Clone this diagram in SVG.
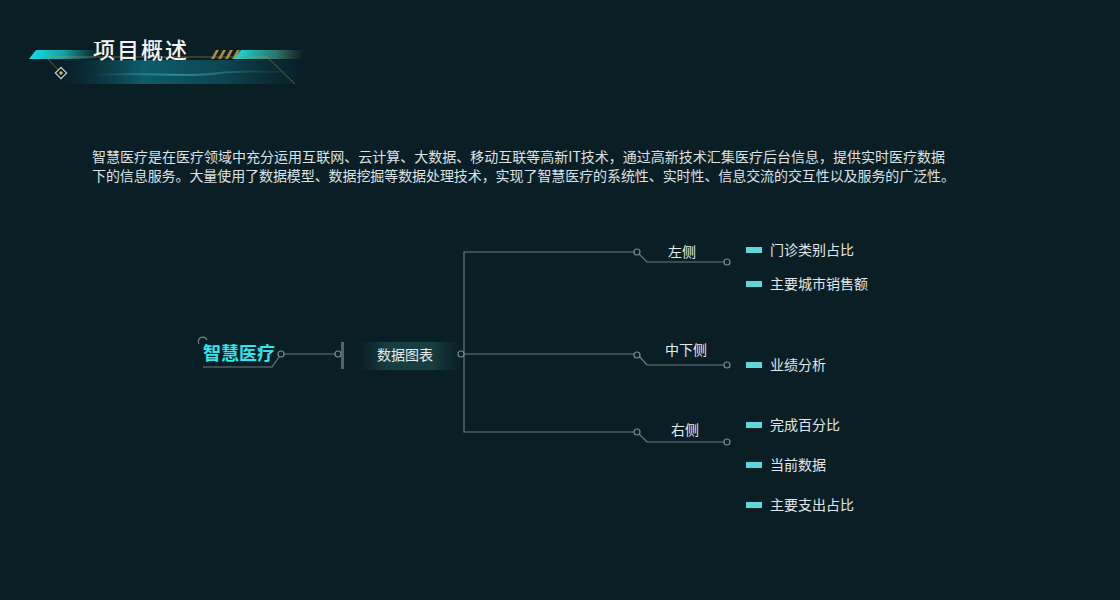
<svg xmlns="http://www.w3.org/2000/svg" width="1120" height="600" viewBox="0 0 1120 600">
<defs>
<style>
.t{font-family:"Noto Sans CJK SC","Noto Sans",sans-serif;}
.para{font-size:14px;fill:#dbe3e6;}
.lbl{font-size:14px;fill:#e6ecee;text-anchor:middle;}
.leaf{font-size:14px;fill:#e2e8ea;}
.ln{stroke:#6b7a7e;stroke-width:1.2;fill:none;}
.dot{stroke:#7b898c;stroke-width:1.2;fill:#0a1e26;}
.bar{fill:#5fd6dc;}
</style>
<linearGradient id="cyanL" x1="0" y1="0" x2="1" y2="0">
<stop offset="0" stop-color="#10e4ea"/><stop offset="0.5" stop-color="#18bfc6" stop-opacity="0.8"/><stop offset="1" stop-color="#1a8c94" stop-opacity="0"/>
</linearGradient>
<linearGradient id="cyanR" x1="0" y1="0" x2="1" y2="0">
<stop offset="0" stop-color="#12e2e8"/><stop offset="0.6" stop-color="#3a9a8a" stop-opacity="0.7"/><stop offset="1" stop-color="#6a6a3a" stop-opacity="0"/>
</linearGradient>
<linearGradient id="band" x1="0" y1="0" x2="1" y2="0">
<stop offset="0" stop-color="#0e4a5a" stop-opacity="0"/><stop offset="0.35" stop-color="#117080" stop-opacity="0.75"/><stop offset="0.7" stop-color="#0f5f6e" stop-opacity="0.6"/><stop offset="1" stop-color="#0c3440" stop-opacity="0.2"/>
</linearGradient>
<linearGradient id="wave" x1="0" y1="0" x2="1" y2="0">
<stop offset="0" stop-color="#4ad0dc" stop-opacity="0"/><stop offset="0.4" stop-color="#4ad0dc" stop-opacity="0.45"/><stop offset="1" stop-color="#4ad0dc" stop-opacity="0"/>
</linearGradient>
<linearGradient id="under" x1="0" y1="0" x2="1" y2="0">
<stop offset="0" stop-color="#1f5560"/><stop offset="0.5" stop-color="#3f8088"/><stop offset="1" stop-color="#7d8c90"/>
</linearGradient>
<linearGradient id="boxg" x1="0" y1="0" x2="1" y2="0">
<stop offset="0" stop-color="#143a3e" stop-opacity="0"/><stop offset="0.3" stop-color="#173f42"/><stop offset="0.7" stop-color="#173f42"/><stop offset="1" stop-color="#143a3e" stop-opacity="0"/>
</linearGradient>
</defs>
<rect width="1120" height="600" fill="#0a1e26"/>

<g id="header">
<polygon points="60,60 296,60 296,84 60,84" fill="url(#band)"/>
<path d="M90,76 C140,70 180,79 220,73 C250,69 275,74 296,71" stroke="url(#wave)" stroke-width="2" fill="none"/>
<polygon points="36,50 100,50 94,59 29,59" fill="url(#cyanL)"/>
<g fill="#c9a04a" opacity="0.85">
<polygon points="216,50 219,50 214,59 211,59"/>
<polygon points="223,50 226,50 221,59 218,59"/>
<polygon points="230,50 233,50 228,59 225,59"/>
<polygon points="237,50 240,50 235,59 232,59"/>
</g>
<polygon points="241,50 305,50 300,59 234,59" fill="url(#cyanR)"/>
<polyline points="61,73 46,57 267,57 295,84" fill="none" stroke="#b0943e" stroke-width="0.8" opacity="0.7"/>
<rect x="57" y="69" width="8" height="8" transform="rotate(45 61 73)" fill="#0a1e26" stroke="#c8cfd2" stroke-width="1.2"/>
<circle cx="61" cy="73" r="1.8" fill="#e2b23a"/>
<text class="t" x="93" y="58" font-size="22" font-weight="500" fill="#f2f5f6" letter-spacing="2">项目概述</text>
</g>

<g id="intro">
<text class="t para" x="92" y="162" textLength="853" lengthAdjust="spacing">智慧医疗是在医疗领域中充分运用互联网、云计算、大数据、移动互联等高新IT技术，通过高新技术汇集医疗后台信息，提供实时医疗数据</text>
<text class="t para" x="92" y="181" textLength="863" lengthAdjust="spacing">下的信息服务。大量使用了数据模型、数据挖掘等数据处理技术，实现了智慧医疗的系统性、实时性、信息交流的交互性以及服务的广泛性。</text>
</g>

<g id="connectors">
<path class="ln" d="M203,367 L272,367 L279,357" stroke="url(#under)"/>
<line class="ln" x1="284" y1="354" x2="335" y2="354"/>
<line class="ln" x1="464" y1="354" x2="634" y2="354"/>
<polyline class="ln" points="634,252 464,252 464,432 634,432"/>
<polyline class="ln" points="639,254 647,262 724,262"/>
<polyline class="ln" points="639,356 647,365 724,365"/>
<polyline class="ln" points="639,434 647,442 724,442"/>
</g>

<g id="node-root">
<path d="M199,344 A4.5,4.5 0 1 1 207,340" stroke="#7b898c" stroke-width="1.2" fill="none"/>
<text class="t" x="203" y="360" font-size="18" font-weight="700" fill="#2ee6ee">智慧医疗</text>
<circle class="dot" cx="281" cy="354" r="3"/>
<circle class="dot" cx="338" cy="354" r="3"/>
<rect x="341" y="342" width="3" height="27" fill="#56626a"/>
</g>

<g id="node-chart">
<rect x="358" y="342" width="104" height="28" fill="url(#boxg)"/>
<text class="t lbl" x="405" y="360">数据图表</text>
<circle class="dot" cx="461" cy="354" r="3"/>
</g>

<g id="node-left">
<circle class="dot" cx="637" cy="252" r="3"/>
<circle class="dot" cx="727" cy="262" r="3"/>
<text class="t lbl" x="682" y="257">左侧</text>
</g>
<g id="node-mid">
<circle class="dot" cx="637" cy="355" r="3"/>
<circle class="dot" cx="727" cy="365" r="3"/>
<text class="t lbl" x="686" y="355">中下侧</text>
</g>
<g id="node-right">
<circle class="dot" cx="637" cy="432" r="3"/>
<circle class="dot" cx="727" cy="442" r="3"/>
<text class="t lbl" x="685" y="435">右侧</text>
</g>

<g id="leaf-1"><rect class="bar" x="746" y="247" width="16" height="6"/><text class="t leaf" x="770" y="255">门诊类别占比</text></g>
<g id="leaf-2"><rect class="bar" x="746" y="281" width="16" height="6"/><text class="t leaf" x="770" y="289">主要城市销售额</text></g>
<g id="leaf-3"><rect class="bar" x="746" y="362" width="16" height="6"/><text class="t leaf" x="770" y="370">业绩分析</text></g>
<g id="leaf-4"><rect class="bar" x="746" y="422" width="16" height="6"/><text class="t leaf" x="770" y="430">完成百分比</text></g>
<g id="leaf-5"><rect class="bar" x="746" y="462" width="16" height="6"/><text class="t leaf" x="770" y="470">当前数据</text></g>
<g id="leaf-6"><rect class="bar" x="746" y="502" width="16" height="6"/><text class="t leaf" x="770" y="510">主要支出占比</text></g>
</svg>
